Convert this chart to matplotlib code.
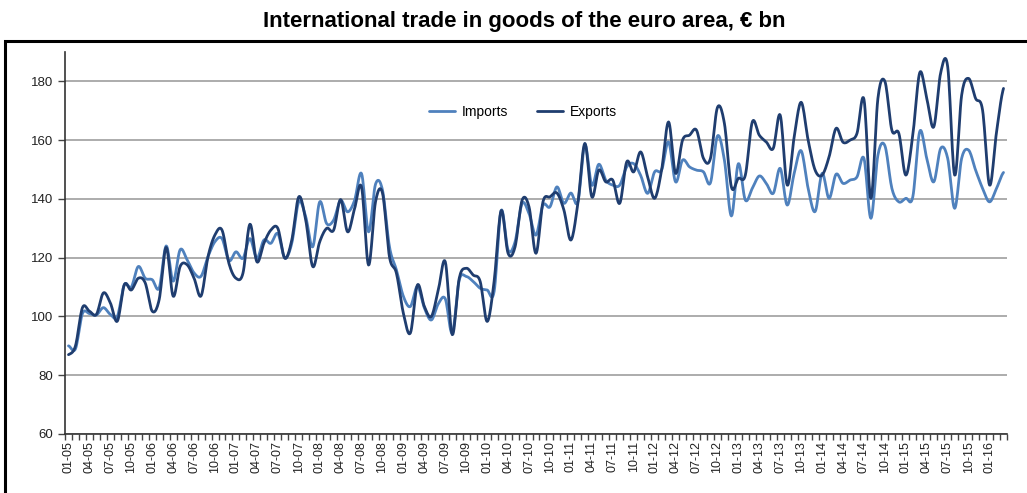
import numpy as np
import matplotlib
matplotlib.use("Agg")
import matplotlib.pyplot as plt
from matplotlib.patches import Rectangle

# monthly data, 01-05 .. 03-16 (EUR bn)
imports = [
    90, 89, 101, 101, 100.5, 103, 100.7, 100, 110.8, 110, 117, 113,
    112.5, 109.7, 124, 112, 122.7, 119.3, 114.8, 113.7, 120.4, 125.5, 126.5, 119,
    122, 119.8, 126.5, 119.8, 126, 124.9, 128.2, 120, 124.9, 139, 133.9, 123.7,
    139, 131.6, 132.8, 139.5, 135.6, 139.5, 148.6, 128.8, 145, 143, 123.7, 115.8,
    106.8, 103.4, 110.2, 102.9, 98.8, 104.3, 106, 94.4, 112.4, 113.6, 111.9, 109.6,
    109, 108.5, 136, 122.6, 125.4, 138.4, 135, 127.7, 137.9, 137.3, 144.1, 138.5,
    142, 139, 158.3, 144.7, 151.8, 146.4, 144.7, 144.7, 150.9, 152, 148, 141.9,
    149.2, 149.8, 159.4, 145.8, 153.2, 150.9, 149.8, 149.2, 145.5, 161.4, 153.2, 134.2,
    152, 139.6, 143.6, 147.8, 145.3, 141.9, 150.4, 137.9, 148.7, 156.4, 143.6, 135.7,
    148.7, 140.2, 148.4, 145.3, 146.4, 147.5, 153.8, 133.4, 154.9, 158.1, 143.6, 139,
    140.2, 140.7, 163, 153.8, 145.8, 157.2, 153.8, 136.8, 153.8, 156.6, 149.8, 143.6,
    139, 143.6, 149,
]
exports = [
    87, 90, 103, 101.8, 100.7, 108, 104.6, 98.4, 110.8, 109, 113, 111.4,
    101.8, 105.8, 123.5, 106.9, 117, 117.6, 113, 107, 120.4, 127.8, 129.4, 118,
    113, 114.7, 131.4, 118.6, 124.9, 129.4, 130, 119.8, 126, 140.7, 132.8, 117,
    125.4, 130, 129.4, 139.8, 128.8, 136.7, 144, 117.5, 139, 142, 120.3, 114.7,
    101, 94.4, 110.7, 103.4, 100, 109, 118.6, 93.8, 113, 116.4, 114.1, 111.9,
    98.3, 112, 136, 121.5, 123.7, 139.5, 137.3, 121.5, 139, 140.7, 142, 136.2,
    126, 138.5, 158.9, 140.7, 149.8, 145.8, 146.4, 138.5, 152.6, 149.2, 156, 147.5,
    140.2, 149.8, 166.2, 148.7, 160, 161.7, 163.4, 153.8, 153.8, 171.1, 165.7, 144.1,
    147, 148.1, 166.2, 161.7, 159.4, 157.2, 168.5, 144.7, 161.1, 172.9, 160, 149.8,
    148.1, 154.3, 164, 159.3, 160, 162.3, 173.9, 140.2, 174.2, 180, 163.4, 162.3,
    148.1, 161.7, 183, 174.2, 164.5, 183, 185, 148.1, 175.3, 181, 174.2, 170.2,
    144.7, 162.8, 177.6,
]
years = list(range(5, 17))
months = []
for yy in years:
    for mm in range(1, 13):
        months.append(f"{mm:02d}-{yy:02d}")
months = months[:len(imports)]


def smooth(vals, n=12):
    # Catmull-Rom curve through the points (like Excel's smoothed line)
    v = np.asarray(vals, dtype=float)
    p = np.concatenate([[v[0]], v, [v[-1]]])
    xs, ys = [], []
    t = np.linspace(0, 1, n, endpoint=False)
    for i in range(len(v) - 1):
        p0, p1, p2, p3 = p[i], p[i + 1], p[i + 2], p[i + 3]
        y = 0.5 * ((2 * p1) + (-p0 + p2) * t + (2 * p0 - 5 * p1 + 4 * p2 - p3) * t ** 2
                   + (-p0 + 3 * p1 - 3 * p2 + p3) * t ** 3)
        xs.extend(i + t)
        ys.extend(y)
    xs.append(len(v) - 1)
    ys.append(v[-1])
    return np.array(xs), np.array(ys)


plt.rcParams['font.family'] = ['Liberation Sans', 'DejaVu Sans']

fig = plt.figure(figsize=(10.27, 4.93), dpi=100)
W, H = 1027, 493
ax = fig.add_axes([65 / W, 1 - 434 / H, (1007 - 65) / W, (434 - 52) / H])

# outer chart border
fig.patches.append(Rectangle((5 / W, -0.1), 1.2, 1 - 41 / H + 0.1, transform=fig.transFigure,
                             fill=False, edgecolor='black', linewidth=2.2))

fig.text(524 / W, 1 - 21 / H, "International trade in goods of the euro area, € bn",
         ha='center', va='center', fontsize=16, fontweight='bold')

c_imp = '#4f81bd'
c_exp = '#1f3d6f'
xi, yi = smooth(imports)
xe, ye = smooth(exports)
ax.plot(xi, yi, color=c_imp, linewidth=2.0, label='Imports', solid_capstyle='round')
ax.plot(xe, ye, color=c_exp, linewidth=2.0, label='Exports', solid_capstyle='round')

ax.set_ylim(60, 190)
ax.set_yticks(range(60, 181, 20))
ax.set_xlim(-0.5, len(imports) - 0.5)
ax.set_xticks(range(0, len(months), 3))
ax.set_xticklabels(months[::3], rotation=90)
ax.set_xticks(np.arange(-0.5, len(months)), minor=True)
ax.tick_params(axis='x', which='major', length=0, labelsize=9, pad=5, colors='#222222')
ax.tick_params(axis='x', which='minor', length=4, width=1, color='#444444')
ax.tick_params(axis='y', length=5, width=1, labelsize=9.5, color='#444444', labelcolor='#222222')

ax.grid(axis='y', color='#a6a6a6', linewidth=1.3)
ax.set_axisbelow(True)
for s in ['top', 'right']:
    ax.spines[s].set_visible(False)
for s in ['left', 'bottom']:
    ax.spines[s].set_color('#333333')
    ax.spines[s].set_linewidth(1.2)

ax.legend(ncol=2, frameon=False, loc='center', bbox_to_anchor=(0.486, 0.843),
          handlelength=1.9, columnspacing=2.1, fontsize=10, handletextpad=0.45)

fig.savefig('out.png', dpi=100)
